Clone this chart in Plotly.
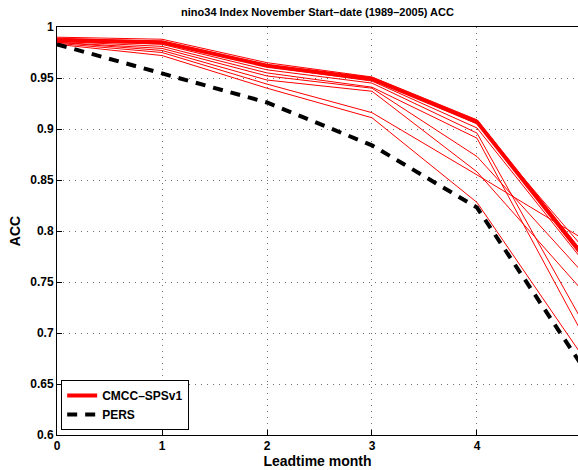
import plotly.graph_objects as go

# Lead times (months) and anomaly correlation skill for the Nino3.4 index
leadtime = [0, 1, 2, 3, 4, 5]

# Individual ensemble-member ACC curves
member_01 = [0.990, 0.988, 0.965, 0.951, 0.909, 0.780]
member_02 = [0.989, 0.986, 0.963, 0.949, 0.905, 0.785]
member_03 = [0.988, 0.985, 0.961, 0.947, 0.901, 0.772]
member_04 = [0.987, 0.983, 0.958, 0.945, 0.896, 0.712]
member_05 = [0.986, 0.981, 0.955, 0.941, 0.891, 0.700]
member_06 = [0.985, 0.979, 0.952, 0.940, 0.873, 0.760]
member_07 = [0.985, 0.977, 0.948, 0.937, 0.858, 0.742]
member_08 = [0.984, 0.975, 0.944, 0.916, 0.855, 0.793]
member_09 = [0.983, 0.972, 0.940, 0.911, 0.828, 0.678]
members = [member_01, member_02, member_03, member_04, member_05,
           member_06, member_07, member_08, member_09]

# Ensemble-mean system skill and persistence reference
cmcc_sps = [0.987, 0.985, 0.962, 0.949, 0.907, 0.777]
persistence = [0.983, 0.955, 0.926, 0.884, 0.823, 0.668]

x_ticks = [0, 1, 2, 3, 4]
y_ticks = [0.6, 0.65, 0.7, 0.75, 0.8, 0.85, 0.9, 0.95, 1.0]
y_tick_text = ["0.6", "0.65", "0.7", "0.75", "0.8", "0.85", "0.9", "0.95", "1"]

RED = "#ff0000"
FONT = "Liberation Sans"
GRID = "#707070"

fig = go.Figure()

for m in members:
    fig.add_trace(go.Scatter(
        x=leadtime, y=m, mode="lines",
        line=dict(color=RED, width=1),
        showlegend=False, hoverinfo="skip",
    ))

fig.add_trace(go.Scatter(
    x=leadtime, y=cmcc_sps, mode="lines", name="CMCC–SPSv1",
    line=dict(color=RED, width=4),
))

fig.add_trace(go.Scatter(
    x=leadtime, y=persistence, mode="lines", name="PERS",
    line=dict(color="black", width=4, dash="10px,8px"),
))

axis_font = dict(family=FONT, size=12, color="black", weight="bold")

fig.update_layout(
    width=578, height=470,
    margin=dict(l=57, r=0, t=27, b=35),
    paper_bgcolor="white", plot_bgcolor="white",
    title=dict(
        text="nino34 Index November Start–date (1989–2005) ACC",
        x=0.5, xref="paper", xanchor="center",
        y=1 - 12 / 470, yref="container", yanchor="middle",
        font=dict(family=FONT, size=11, color="black", weight="bold"),
    ),
    xaxis=dict(
        range=[0, 4.962], tickvals=x_ticks,
        ticks="inside", ticklen=5, tickcolor="black",
        showline=True, linecolor="black", linewidth=1, mirror=True,
        showgrid=True, gridcolor=GRID, gridwidth=1, griddash="1px,5px",
        zeroline=False, tickfont=axis_font,
        title=dict(text="Leadtime month", standoff=2,
                   font=dict(family=FONT, size=14, color="black", weight="bold")),
    ),
    yaxis=dict(
        range=[0.6, 1.0], tickvals=y_ticks, ticktext=y_tick_text,
        ticks="inside", ticklen=5, tickcolor="black",
        showline=True, linecolor="black", linewidth=1, mirror=False,
        showgrid=True, gridcolor=GRID, gridwidth=1, griddash="1px,5px",
        zeroline=False, tickfont=axis_font,
        title=dict(text="ACC", standoff=6,
                   font=dict(family=FONT, size=14, color="black", weight="bold")),
    ),
    legend=dict(
        x=0.008, y=0.012, xanchor="left", yanchor="bottom",
        bgcolor="white", bordercolor="black", borderwidth=1,
        font=dict(family=FONT, size=12, color="black", weight="bold"),
        tracegroupgap=0, itemwidth=30,
    ),
)

fig.write_html("out.html")
